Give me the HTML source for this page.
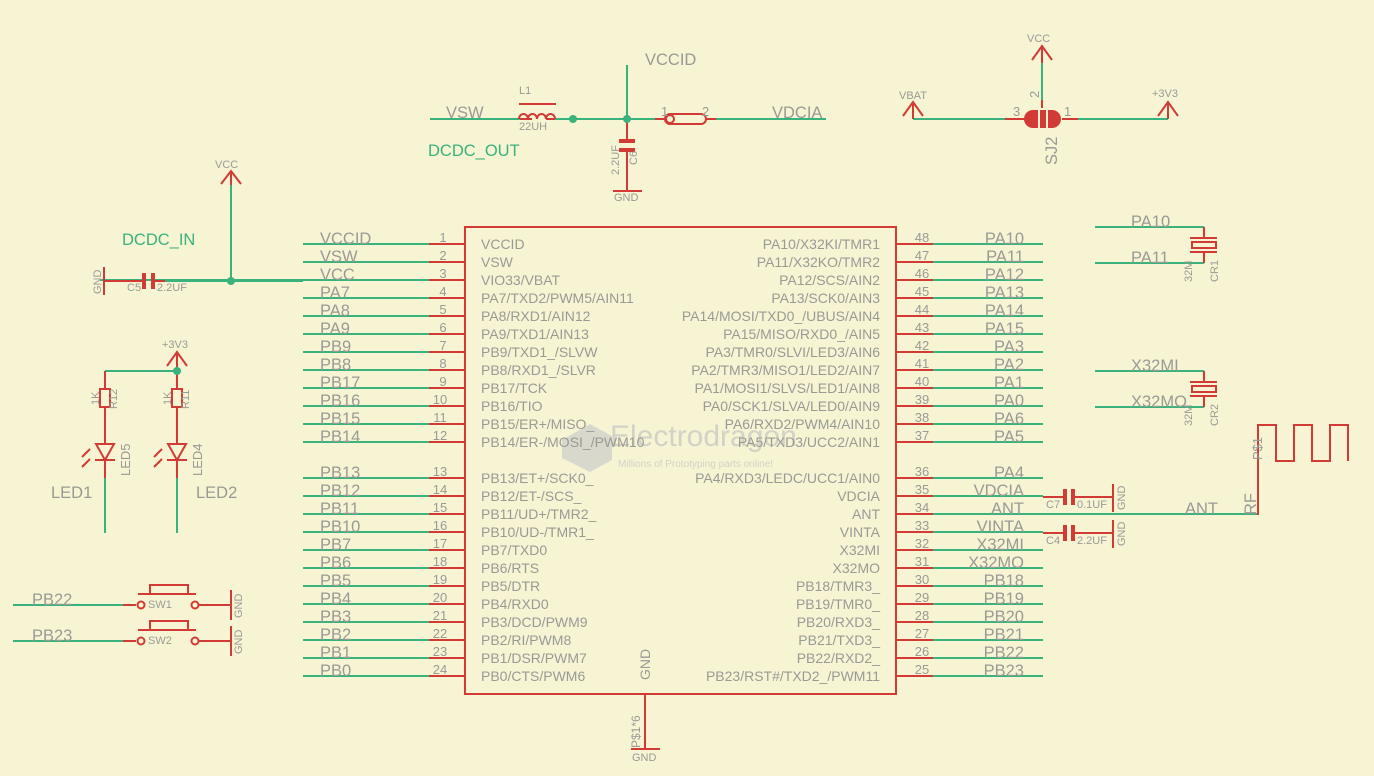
<!DOCTYPE html>
<html><head><meta charset="utf-8"><style>
html,body{margin:0;padding:0;background:#f7f4d4;}
svg{display:block;}
text{font-family:"Liberation Sans",sans-serif;fill:#9a9a94;}
.n{font-size:16.5px;}
.f{font-size:14px;}
.p{font-size:13px;}
.s{font-size:11px;}
.g{fill:#3ab27c;}
.G{stroke:#3ab27c;stroke-width:2;fill:none;}
.R{stroke:#d23b35;stroke-width:2;fill:none;}
.RF{fill:#d23b35;stroke:none;}
</style></head><body>
<svg width="1374" height="776" viewBox="0 0 1374 776" xmlns="http://www.w3.org/2000/svg">
<rect width="1374" height="776" fill="#f7f4d4"/>

<!-- chip -->
<rect x="465" y="227" width="431" height="467" class="R"/>
<g class="G">
<path d="M303 244H429M303 262H429M100 280H429M303 298H429M303 316H429M303 334H429M303 352H429M303 370H429M303 388H429M303 406H429M303 424H429M303 442H429M303 478H429M303 496H429M303 514H429M303 532H429M303 550H429M303 568H429M303 586H429M303 604H429M303 622H429M303 640H429M303 658H429M303 676H429"/>
<path d="M933 244H1043M933 262H1043M933 280H1043M933 298H1043M933 316H1043M933 334H1043M933 352H1043M933 370H1043M933 388H1043M933 406H1043M933 424H1043M933 442H1043M933 478H1043M933 496H1043M933 514H1258M933 532H1043M933 550H1043M933 568H1043M933 586H1043M933 604H1043M933 622H1043M933 640H1043M933 658H1043M933 676H1043"/>
</g>
<g class="R">
<path d="M429 244H465M429 262H465M429 280H465M429 298H465M429 316H465M429 334H465M429 352H465M429 370H465M429 388H465M429 406H465M429 424H465M429 442H465M429 478H465M429 496H465M429 514H465M429 532H465M429 550H465M429 568H465M429 586H465M429 604H465M429 622H465M429 640H465M429 658H465M429 676H465"/>
<path d="M896 244H933M896 262H933M896 280H933M896 298H933M896 316H933M896 334H933M896 352H933M896 370H933M896 388H933M896 406H933M896 424H933M896 442H933M896 478H933M896 496H933M896 514H933M896 532H933M896 550H933M896 568H933M896 586H933M896 604H933M896 622H933M896 640H933M896 658H933M896 676H933"/>
<path d="M645 694V749M631 749H660"/>
</g>

<!-- watermark -->
<path d="M562 440L590 424L612 436L612 460L590 472L562 458Z" fill="#d8d8cc"/>
<text x="610" y="446" style="font-size:30px;fill:#d2d2c6">Electrodragon</text>
<text x="618" y="467" style="font-size:10px;fill:#d2d2c6">Millions of Prototyping parts online!</text>

<!-- left net labels -->
<g class="n">
<text x="320" y="244">VCCID</text><text x="320" y="262">VSW</text><text x="320" y="280">VCC</text><text x="320" y="298">PA7</text><text x="320" y="316">PA8</text><text x="320" y="334">PA9</text><text x="320" y="352">PB9</text><text x="320" y="370">PB8</text><text x="320" y="388">PB17</text><text x="320" y="406">PB16</text><text x="320" y="424">PB15</text><text x="320" y="442">PB14</text>
<text x="320" y="478">PB13</text><text x="320" y="496">PB12</text><text x="320" y="514">PB11</text><text x="320" y="532">PB10</text><text x="320" y="550">PB7</text><text x="320" y="568">PB6</text><text x="320" y="586">PB5</text><text x="320" y="604">PB4</text><text x="320" y="622">PB3</text><text x="320" y="640">PB2</text><text x="320" y="658">PB1</text><text x="320" y="676">PB0</text>
</g>
<g class="n" text-anchor="end">
<text x="1024" y="244">PA10</text><text x="1024" y="262">PA11</text><text x="1024" y="280">PA12</text><text x="1024" y="298">PA13</text><text x="1024" y="316">PA14</text><text x="1024" y="334">PA15</text><text x="1024" y="352">PA3</text><text x="1024" y="370">PA2</text><text x="1024" y="388">PA1</text><text x="1024" y="406">PA0</text><text x="1024" y="424">PA6</text><text x="1024" y="442">PA5</text>
<text x="1024" y="478">PA4</text><text x="1024" y="496">VDCIA</text><text x="1024" y="514">ANT</text><text x="1024" y="532">VINTA</text><text x="1024" y="550">X32MI</text><text x="1024" y="568">X32MO</text><text x="1024" y="586">PB18</text><text x="1024" y="604">PB19</text><text x="1024" y="622">PB20</text><text x="1024" y="640">PB21</text><text x="1024" y="658">PB22</text><text x="1024" y="676">PB23</text>
</g>
<!-- pin numbers -->
<g class="p" text-anchor="middle">
<text x="443" y="242">1</text><text x="443" y="260">2</text><text x="443" y="278">3</text><text x="443" y="296">4</text><text x="443" y="314">5</text><text x="443" y="332">6</text><text x="443" y="350">7</text><text x="443" y="368">8</text><text x="443" y="386">9</text><text x="440" y="404">10</text><text x="440" y="422">11</text><text x="440" y="440">12</text>
<text x="440" y="476">13</text><text x="440" y="494">14</text><text x="440" y="512">15</text><text x="440" y="530">16</text><text x="440" y="548">17</text><text x="440" y="566">18</text><text x="440" y="584">19</text><text x="440" y="602">20</text><text x="440" y="620">21</text><text x="440" y="638">22</text><text x="440" y="656">23</text><text x="440" y="674">24</text>
<text x="922" y="242">48</text><text x="922" y="260">47</text><text x="922" y="278">46</text><text x="922" y="296">45</text><text x="922" y="314">44</text><text x="922" y="332">43</text><text x="922" y="350">42</text><text x="922" y="368">41</text><text x="922" y="386">40</text><text x="922" y="404">39</text><text x="922" y="422">38</text><text x="922" y="440">37</text>
<text x="922" y="476">36</text><text x="922" y="494">35</text><text x="922" y="512">34</text><text x="922" y="530">33</text><text x="922" y="548">32</text><text x="922" y="566">31</text><text x="922" y="584">30</text><text x="922" y="602">29</text><text x="922" y="620">28</text><text x="922" y="638">27</text><text x="922" y="656">26</text><text x="922" y="674">25</text>
</g>
<!-- functions -->
<g class="f">
<text x="481" y="249">VCCID</text><text x="481" y="267">VSW</text><text x="481" y="285">VIO33/VBAT</text><text x="481" y="303">PA7/TXD2/PWM5/AIN11</text><text x="481" y="321">PA8/RXD1/AIN12</text><text x="481" y="339">PA9/TXD1/AIN13</text><text x="481" y="357">PB9/TXD1_/SLVW</text><text x="481" y="375">PB8/RXD1_/SLVR</text><text x="481" y="393">PB17/TCK</text><text x="481" y="411">PB16/TIO</text><text x="481" y="429">PB15/ER+/MISO_</text><text x="481" y="447">PB14/ER-/MOSI_/PWM10</text>
<text x="481" y="483">PB13/ET+/SCK0_</text><text x="481" y="501">PB12/ET-/SCS_</text><text x="481" y="519">PB11/UD+/TMR2_</text><text x="481" y="537">PB10/UD-/TMR1_</text><text x="481" y="555">PB7/TXD0</text><text x="481" y="573">PB6/RTS</text><text x="481" y="591">PB5/DTR</text><text x="481" y="609">PB4/RXD0</text><text x="481" y="627">PB3/DCD/PWM9</text><text x="481" y="645">PB2/RI/PWM8</text><text x="481" y="663">PB1/DSR/PWM7</text><text x="481" y="681">PB0/CTS/PWM6</text>
</g>
<g class="f" text-anchor="end">
<text x="880" y="249">PA10/X32KI/TMR1</text><text x="880" y="267">PA11/X32KO/TMR2</text><text x="880" y="285">PA12/SCS/AIN2</text><text x="880" y="303">PA13/SCK0/AIN3</text><text x="880" y="321">PA14/MOSI/TXD0_/UBUS/AIN4</text><text x="880" y="339">PA15/MISO/RXD0_/AIN5</text><text x="880" y="357">PA3/TMR0/SLVI/LED3/AIN6</text><text x="880" y="375">PA2/TMR3/MISO1/LED2/AIN7</text><text x="880" y="393">PA1/MOSI1/SLVS/LED1/AIN8</text><text x="880" y="411">PA0/SCK1/SLVA/LED0/AIN9</text><text x="880" y="429">PA6/RXD2/PWM4/AIN10</text><text x="880" y="447">PA5/TXD3/UCC2/AIN1</text>
<text x="880" y="483">PA4/RXD3/LEDC/UCC1/AIN0</text><text x="880" y="501">VDCIA</text><text x="880" y="519">ANT</text><text x="880" y="537">VINTA</text><text x="880" y="555">X32MI</text><text x="880" y="573">X32MO</text><text x="880" y="591">PB18/TMR3_</text><text x="880" y="609">PB19/TMR0_</text><text x="880" y="627">PB20/RXD3_</text><text x="880" y="645">PB21/TXD3_</text><text x="880" y="663">PB22/RXD2_</text><text x="880" y="681">PB23/RST#/TXD2_/PWM11</text>
</g>
<text class="f" transform="translate(650,680) rotate(-90)">GND</text>
<text class="s" transform="translate(640,748) rotate(-90)" style="font-size:12px">P$1*6</text>
<text class="s" x="632" y="761">GND</text>

<!-- top: VSW / VCCID / VDCIA -->
<g class="G"><path d="M430 119H520M555 119H655M716 119H826M627 65V119"/></g>
<g class="R">
<path d="M520 119H532M546 119H555"/>
<path d="M519 119a4.5 5 0 0 1 9 0a4.5 5 0 0 1 9 0a4.5 5 0 0 1 9 0a4.5 5 0 0 1 9 0" />
<path d="M519 104H556"/>
<path d="M627 119V139M627 152V191M613 191H642"/>
<path d="M655 119H665M706 119H716"/>
<rect x="665" y="114" width="41" height="10" rx="5"/>
<circle cx="670" cy="119" r="4"/>
</g>
<rect x="619" y="139" width="16" height="4" class="RF"/><rect x="619" y="148" width="16" height="4" class="RF"/>
<circle cx="573" cy="119" r="4" fill="#3ab27c"/><circle cx="627" cy="119" r="4" fill="#3ab27c"/>
<text class="n" x="446" y="118">VSW</text>
<text class="n" x="772" y="118">VDCIA</text>
<text class="n" x="645" y="65">VCCID</text>
<text class="n g" x="428" y="156">DCDC_OUT</text>
<text class="s" x="519" y="94">L1</text><text class="s" x="519" y="130">22UH</text>
<text class="p" x="661" y="116">1</text><text class="p" x="702" y="116">2</text>
<text class="s" transform="translate(619,175) rotate(-90)">2.2UF</text>
<text class="s" transform="translate(637,165) rotate(-90)">C6</text>
<text class="s" x="614" y="201">GND</text>

<!-- SJ2 -->
<g class="G"><path d="M913 119H1005M1078 119H1168M1042 63V100"/></g>
<g class="R">
<path d="M1005 119H1025M1062 119H1078M1042 100V108"/>
<path d="M913 119V104M903 116L913 102L923 116"/>
<path d="M1042 63V48M1032 60L1042 46L1052 60"/>
<path d="M1168 119V104M1158 116L1168 102L1178 116"/>
</g>
<path d="M1033 110H1038V128H1033A9 9 0 0 1 1033 110Z" class="RF"/>
<rect x="1040" y="110" width="6" height="18" class="RF"/>
<path d="M1048 110H1052A9 9 0 0 1 1052 128H1048Z" class="RF"/>
<text class="s" x="899" y="99">VBAT</text><text class="s" x="1027" y="42">VCC</text><text class="s" x="1152" y="97">+3V3</text>
<text class="p" x="1013" y="116">3</text><text class="p" x="1064" y="116">1</text>
<text class="p" transform="translate(1039,98) rotate(-90)">2</text>
<text class="n" transform="translate(1057,165) rotate(-90)">SJ2</text>

<!-- VCC / DCDC_IN -->
<g class="G"><path d="M231 185V281M160 281H303"/><path d="M105 281H140"/></g>
<g class="R">
<path d="M231 185V172M221 184L231 171L241 184"/>
<path d="M105 281H145M155 281H165M104 267V295"/>
</g>
<rect x="142" y="273" width="4" height="16" class="RF"/><rect x="151" y="273" width="4" height="16" class="RF"/>
<circle cx="231" cy="281" r="4" fill="#3ab27c"/>
<text class="s" x="215" y="168">VCC</text>
<text class="n g" x="122" y="245">DCDC_IN</text>
<text class="s" transform="translate(101,294) rotate(-90)">GND</text>
<text class="s" x="127" y="291">C5</text><text class="s" x="157" y="291">2.2UF</text>

<!-- LEDs -->
<g class="G"><path d="M105 371H177M105 478V533M177 478V533"/></g>
<g class="R">
<path d="M177 371V352M167 366L177 352L187 366"/>
<path d="M105 371V389M105 407V444M105 460V478M177 371V389M177 407V444M177 460V478"/>
<rect x="100" y="389" width="10" height="18"/><rect x="172" y="389" width="10" height="18"/>
<path d="M96 444H114L105 460ZM95 460H115"/><path d="M168 444H186L177 460ZM167 460H187"/>
<path d="M90 449L82 457M90 459L82 467M162 449L154 457M162 459L154 467"/>
</g>
<circle cx="177" cy="371" r="4" fill="#3ab27c"/>
<text class="s" x="162" y="348">+3V3</text>
<text class="s" transform="translate(99,405) rotate(-90)">1K</text><text class="s" transform="translate(117,409) rotate(-90)">R12</text>
<text class="s" transform="translate(171,405) rotate(-90)">1K</text><text class="s" transform="translate(189,409) rotate(-90)">R11</text>
<text class="p" transform="translate(130,476) rotate(-90)">LED5</text><text class="p" transform="translate(202,476) rotate(-90)">LED4</text>
<text class="n" x="51" y="498">LED1</text><text class="n" x="196" y="498">LED2</text>

<!-- Switches -->
<g class="G"><path d="M13 605H123M13 641H123"/></g>
<g class="R">
<path d="M123 605H136M199 605H231M231 590V620M138 594H196M150 594V585H188V594"/>
<path d="M123 641H136M199 641H231M231 626V656M138 630H196M150 630V621H188V630"/>
<circle cx="141" cy="605" r="3.5"/><circle cx="195" cy="605" r="3.5"/>
<circle cx="141" cy="641" r="3.5"/><circle cx="195" cy="641" r="3.5"/>
</g>
<text class="n" x="32" y="605">PB22</text><text class="n" x="32" y="641">PB23</text>
<text class="s" x="148" y="608">SW1</text><text class="s" x="148" y="644">SW2</text>
<text class="s" transform="translate(242,618) rotate(-90)">GND</text>
<text class="s" transform="translate(242,654) rotate(-90)">GND</text>

<!-- Crystals -->
<g class="G"><path d="M1095 227H1204M1095 263H1204M1095 371H1204M1095 407H1204"/></g>
<g class="R">
<path d="M1204 227V237M1190 238H1217M1190 252H1217M1204 253V263"/>
<rect x="1192" y="242" width="24" height="6"/>
<path d="M1204 371V381M1190 382H1217M1190 396H1217M1204 397V407"/>
<rect x="1192" y="386" width="24" height="6"/>
</g>
<text class="n" x="1131" y="227">PA10</text><text class="n" x="1131" y="263">PA11</text>
<text class="n" x="1131" y="371">X32MI</text><text class="n" x="1131" y="407">X32MO</text>
<text class="s" transform="translate(1192,282) rotate(-90)">32M</text><text class="s" transform="translate(1218,282) rotate(-90)">CR1</text>
<text class="s" transform="translate(1192,426) rotate(-90)">32M</text><text class="s" transform="translate(1218,426) rotate(-90)">CR2</text>

<!-- Antenna & caps -->
<path d="M1258 515V425H1276V461H1294V425H1312V461H1330V425H1348V461" class="R"/>
<text class="n" x="1185" y="514">ANT</text>
<text class="n" transform="translate(1256,515) rotate(-90)">RF</text>
<text class="p" transform="translate(1262,460) rotate(-90)">P$1</text>
<g class="R">
<path d="M1043 497H1063M1075 497H1113M1113 484V512"/>
<path d="M1043 533H1063M1075 533H1113M1113 520V548"/>
</g>
<rect x="1063" y="489" width="4" height="16" class="RF"/><rect x="1071" y="489" width="4" height="16" class="RF"/>
<rect x="1063" y="525" width="4" height="16" class="RF"/><rect x="1071" y="525" width="4" height="16" class="RF"/>
<text class="s" x="1046" y="508">C7</text><text class="s" x="1077" y="508">0.1UF</text>
<text class="s" x="1046" y="544">C4</text><text class="s" x="1077" y="544">2.2UF</text>
<text class="s" transform="translate(1125,510) rotate(-90)">GND</text>
<text class="s" transform="translate(1125,546) rotate(-90)">GND</text>
</svg>
</body></html>
